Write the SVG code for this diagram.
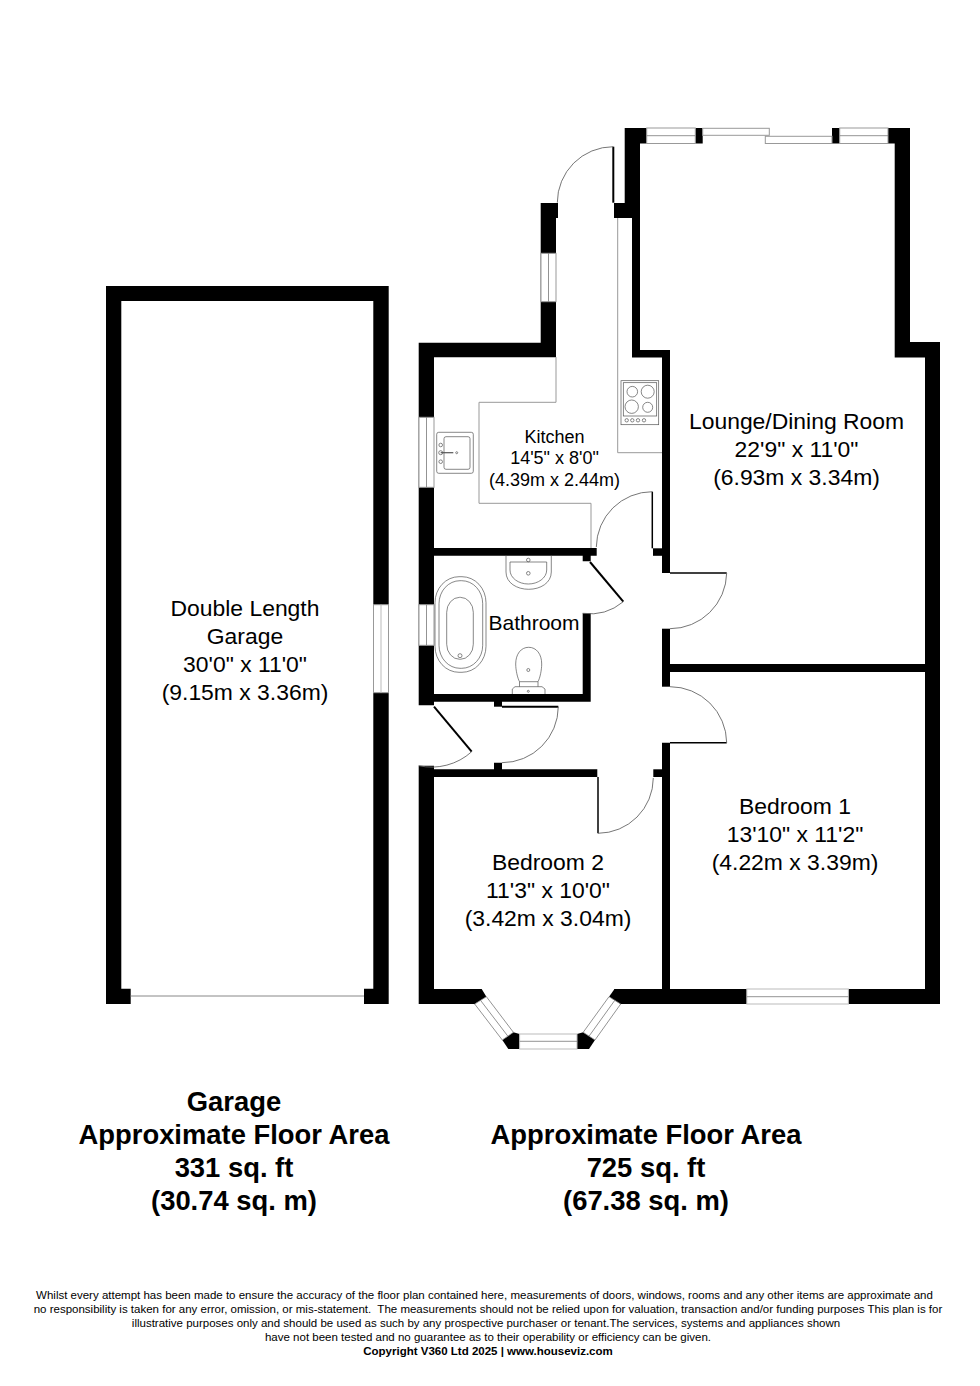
<svg xmlns="http://www.w3.org/2000/svg" width="980" height="1386" viewBox="0 0 980 1386">
<style>
.w{fill:#000;stroke:none}
.g{fill:#fff;stroke:#999;stroke-width:1}
.f{fill:none;stroke:#777;stroke-width:.8}
.leaf{fill:none;stroke:#000;stroke-width:1.5}
.thick{fill:none;stroke:#000;stroke-width:2}
.arc{fill:none;stroke:#666;stroke-width:.9}
text{font-family:"Liberation Sans",Arial,sans-serif;fill:#000;text-anchor:middle}
.r{font-size:22.9px}
.k{font-size:18px}
.a{font-size:27.4px;font-weight:bold}
.n{font-size:11.5px}
</style>
<rect width="980" height="1386" fill="#fff"/>
<g id="garage">
<path class="w" d="M106 286H388.700V1004H364V988.700H373.300V301H121.300V988.700H130.700V1004H106Z"/>
<rect class="g" x="373.500" y="604.700" width="15" height="88"/>
<line x1="381" y1="604.700" x2="381" y2="692.700" stroke="#bbb" stroke-width="1"/>
<line x1="130.700" y1="996" x2="364" y2="996" stroke="#888" stroke-width="1"/>
<text class="r" x="245" y="616">Double Length</text>
<text class="r" x="245" y="644">Garage</text>
<text class="r" x="245" y="672">30'0" x 11'0"</text>
<text class="r" x="245" y="700">(9.15m x 3.36m)</text>
</g>
<g id="walls">
<path class="w" d="M624.700 128H646.700V143.500H640V350H670V550H662V357.500H632V218H614V203H624.700Z"/>
<path class="w" d="M888 128H910V342H940V1004H612V998L614.500 989H662V742.700H670V989H925V672H670V664H925V357.500H894.700V143.500H888Z"/>
<rect class="w" x="662" y="548" width="8" height="25"/>
<rect class="w" x="653" y="548.300" width="10" height="7.500"/>
<rect class="w" x="662" y="628.700" width="8" height="58"/>
<rect class="w" x="695.300" y="128" width="7.400" height="15.500"/>
<rect class="w" x="832" y="128" width="7.700" height="15.500"/>
<path class="w" d="M540.700 203H558V218H556V357.300H434V548H596.700V555.700H590.700V561.300H582.700V555.700H434V694H582.700V613.300H590.700V701.700H434V705.300H418.700V342.700H540.700Z"/>
<path class="w" d="M418.700 765.700H434V769.300H494V762.700H502V769.300H597.300V777H434V989H481.700L486.400 996.700L474.700 1004H418.700Z"/>
<rect class="w" x="494" y="701" width="8" height="5.700"/>
<rect class="w" x="653.300" y="769.300" width="9" height="7.700"/>
<path class="w" d="M502.300 1040L513.400 1032.300L519.600 1034V1049H508.300Z"/>
<path class="w" d="M577 1034L583.200 1032.300L595 1040L589 1049H577Z"/>
<path class="w" d="M609 996.700L614.500 989H630V1004H620.700Z"/>
</g>
<g id="windows">
<rect class="g" x="646.700" y="128" width="48.600" height="15.500"/>
<line class="f" x1="646.700" y1="135.700" x2="695.300" y2="135.700"/>
<rect class="g" x="702.700" y="128.300" width="66.600" height="7"/>
<rect class="g" x="765.300" y="136.300" width="66.700" height="7.200"/>
<rect class="g" x="839.700" y="128" width="48.300" height="15.500"/>
<line class="f" x1="839.700" y1="135.700" x2="888" y2="135.700"/>
<rect class="g" x="541" y="253.300" width="15" height="48.400"/>
<line class="f" x1="548.500" y1="253.300" x2="548.500" y2="301.700"/>
<rect class="g" x="419" y="417.300" width="15" height="70"/>
<line class="f" x1="426.500" y1="417.300" x2="426.500" y2="487.300" stroke="#bbb"/>
<rect class="g" x="419" y="604.700" width="15" height="40.600"/>
<line class="f" x1="426.500" y1="604.700" x2="426.500" y2="645.300"/>
<rect class="g" x="519.600" y="1034" width="57.400" height="15" style="stroke:#bbb"/>
<line class="f" x1="519.600" y1="1041.300" x2="577" y2="1041.300"/>
<rect class="g" x="746.800" y="989" width="101.600" height="15" style="stroke:#bbb"/>
<line class="f" x1="746.800" y1="996.700" x2="848.400" y2="996.700"/>
<path class="g" d="M474.700 1004L486.400 996.700L513.400 1032.300L502.300 1040Z" style="stroke:#777;stroke-width:.8"/>
<line class="f" x1="480.500" y1="1000.300" x2="507.800" y2="1036.100"/>
<path class="g" d="M583.200 1032.300L595 1040L620.700 1004L609 996.700Z" style="stroke:#777;stroke-width:.8"/>
<line class="f" x1="589.100" y1="1036.100" x2="614.800" y2="1000.300"/>
</g>
<g id="doors">
<path class="thick" d="M613.300 146.700V202.700"/><path class="arc" d="M613.300 146.700A56 56 0 0 0 557.300 202.700"/>
<path class="leaf" d="M652.300 491.700V548.300"/><path class="arc" d="M652.300 491.700A56 56 0 0 0 596.300 547"/>
<path class="thick" d="M590 562L623.300 601.700"/><path class="arc" d="M623.300 601.700A52 52 0 0 1 582.700 613.300"/>
<path class="leaf" d="M670 573H726.700"/><path class="arc" d="M726.700 573A56.700 56.700 0 0 1 670 628.700"/>
<path class="leaf" d="M670 742.700H726.700"/><path class="arc" d="M726.700 742.700A56.700 56.700 0 0 0 670 686.700"/>
<path class="thick" d="M434 706.700L471.700 751.700"/><path class="arc" d="M471.700 751.700A60 60 0 0 1 418.700 765.700"/>
<path class="thick" d="M502 706.700H558.300"/><path class="arc" d="M558.300 706.700A56.300 56.300 0 0 1 502 762.700"/>
<path class="leaf" d="M598 777V833.300"/><path class="arc" d="M598 833.300A55.500 55.500 0 0 0 653.300 778"/>
</g>
<g id="kitchen">
<path fill="none" stroke="#999" d="M556 357V402.300H479V503.300H591V548"/>
<path fill="none" stroke="#999" d="M617.700 218V452.700H662"/>
<g id="hob" fill="none" stroke="#555" stroke-width=".7">
<rect x="621" y="380.700" width="37.700" height="44"/>
<rect x="623.300" y="382.700" width="33.400" height="33.300"/>
<circle cx="632.300" cy="391.700" r="5.300"/><circle cx="647.700" cy="391.700" r="6.500"/>
<circle cx="631.700" cy="406.700" r="6.700"/><circle cx="647.700" cy="407.300" r="5"/>
<circle cx="626.700" cy="420.300" r="1.700"/><circle cx="632.300" cy="420.300" r="1.700"/><circle cx="638" cy="420.300" r="1.700"/><circle cx="644" cy="420.300" r="1.700"/>
</g>
<g id="sink" fill="none" stroke="#555" stroke-width=".7">
<rect x="436.700" y="432.300" width="36.600" height="41" rx="2"/>
<rect x="444" y="436.700" width="26" height="32.600" rx="2"/>
<circle cx="440.700" cy="445" r="1.800"/><circle cx="440.700" cy="452.700" r="2"/><circle cx="440.700" cy="461.700" r="1.800"/>
<line x1="440.700" y1="452.700" x2="453.300" y2="452.700" stroke-width="1.200"/><circle cx="456.700" cy="452.700" r="1"/>
</g>
<text class="k" x="554.500" y="443">Kitchen</text>
<text class="k" x="554.500" y="464">14'5" x 8'0"</text>
<text class="k" x="554.500" y="486">(4.39m x 2.44m)</text>
</g>
<g id="bathroom">
<g fill="none" stroke="#555" stroke-width=".7">
<path d="M506 555.700V572C506 583 517 589.300 528.700 589.300S551.300 583 551.300 572V555.700"/>
<path d="M510 562H546.700V570C546.700 578 538 584 528.300 584S510 578 510 570Z"/>
<circle cx="528.300" cy="560" r="1.800"/><circle cx="528.300" cy="573.300" r="1.800"/>
<rect x="435" y="576.700" width="51" height="95.600" rx="24" ry="26"/>
<rect x="439" y="580.700" width="43.700" height="87.600" rx="21" ry="23"/>
<rect x="446.700" y="597.300" width="26.600" height="62" rx="13" ry="15"/>
<circle cx="460" cy="655.700" r="2"/>
<path d="M515.700 664C515.700 654 521 647.300 528.700 647.300S541.700 654 541.700 664C541.700 670 540 678 538 681.700H519.500C517.500 678 515.700 670 515.700 664Z"/>
<circle cx="528.300" cy="670" r="1.500"/>
<path d="M519.500 681.700V686.700M538 681.700V686.700"/>
<path d="M512.300 694V689L515 686.700H542L545 689V694"/>
<circle cx="528.300" cy="691.300" r="1"/>
</g>
<text x="534" y="630" style="font-size:21px">Bathroom</text>
</g>
<g id="labels">
<text class="r" x="796.500" y="429">Lounge/Dining Room</text>
<text class="r" x="796.500" y="457">22'9" x 11'0"</text>
<text class="r" x="796.500" y="485">(6.93m x 3.34m)</text>
<text class="r" x="795" y="814">Bedroom 1</text>
<text class="r" x="795" y="842">13'10" x 11'2"</text>
<text class="r" x="795" y="870">(4.22m x 3.39m)</text>
<text class="r" x="548" y="870">Bedroom 2</text>
<text class="r" x="548" y="898">11'3" x 10'0"</text>
<text class="r" x="548" y="926">(3.42m x 3.04m)</text>
<text class="a" x="234" y="1111">Garage</text>
<text class="a" x="234" y="1144">Approximate Floor Area</text>
<text class="a" x="234" y="1177">331 sq. ft</text>
<text class="a" x="234" y="1210">(30.74 sq. m)</text>
<text class="a" x="646" y="1144">Approximate Floor Area</text>
<text class="a" x="646" y="1177">725 sq. ft</text>
<text class="a" x="646" y="1210">(67.38 sq. m)</text>
</g>
<g id="footer">
<text class="n" x="484.500" y="1299">Whilst every attempt has been made to ensure the accuracy of the floor plan contained here, measurements of doors, windows, rooms and any other items are approximate and</text>
<text class="n" x="488" y="1313" xml:space="preserve">no responsibility is taken for any error, omission, or mis-statement.  The measurements should not be relied upon for valuation, transaction and/or funding purposes This plan is for</text>
<text class="n" x="486" y="1327">illustrative purposes only and should be used as such by any prospective purchaser or tenant.The services, systems and appliances shown</text>
<text class="n" x="488" y="1341">have not been tested and no guarantee as to their operability or efficiency can be given.</text>
<text class="n" x="488" y="1355" style="font-weight:bold">Copyright V360 Ltd 2025 | www.houseviz.com</text>
</g>
</svg>
